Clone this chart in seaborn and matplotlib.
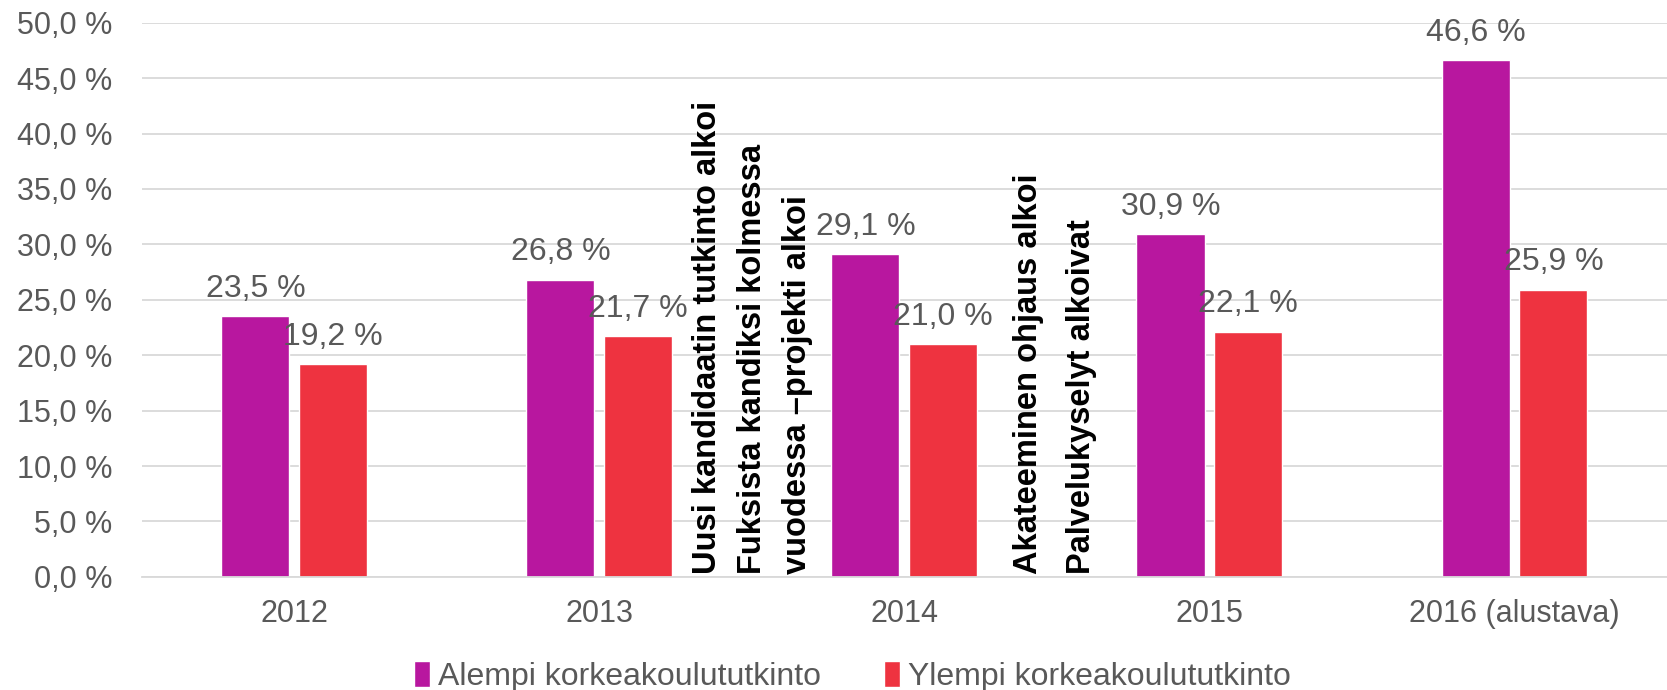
import matplotlib
matplotlib.use("Agg")
import matplotlib.pyplot as plt
import pandas as pd
import seaborn as sns

years = ["2012", "2013", "2014", "2015", "2016 (alustava)"]
alempi = [23.5, 26.8, 29.1, 30.9, 46.6]
ylempi = [19.2, 21.7, 21.0, 22.1, 25.9]
series = ["Alempi korkeakoulututkinto", "Ylempi korkeakoulututkinto"]
colors = ["#B8179F", "#EE3340"]

# rotated notes: (x position in category units, text)
notes_x = [1.354, 1.501, 1.649, 2.406, 2.58]
notes = ["Uusi kandidaatin tutkinto alkoi",
         "Fuksista kandiksi kolmessa",
         "vuodessa –projekti alkoi",
         "Akateeminen ohjaus alkoi",
         "Palvelukyselyt alkoivat"]

df = pd.DataFrame({"year": years * 2,
                   "value": alempi + ylempi,
                   "series": [series[0]] * 5 + [series[1]] * 5})

sns.set_theme(style="white")
plt.rcParams['font.family'] = ['Liberation Sans', 'DejaVu Sans']
grey = "#595959"

fig = plt.figure(figsize=(16.67, 6.9), dpi=100)
ax = fig.add_axes([0.085, 0.164, 0.915, 0.803])

sns.barplot(data=df, x="year", y="value", hue="series", palette=colors,
            width=0.51, gap=0.125, ax=ax, saturation=1)

for cont in ax.containers:
    ax.bar_label(cont, labels=[f"{v:.1f} %".replace(".", ",") for v in cont.datavalues],
                 padding=9, fontsize=23, color=grey)

for x, t in zip(notes_x, notes):
    ax.text(x, 0.3, t, rotation=90, ha="center", va="bottom",
            fontsize=23.5, fontweight="bold", color="black")

ax.set_ylim(0, 50)
ax.set_xlim(-0.5, 4.5)
ax.set_yticks(range(0, 51, 5))
ax.set_yticklabels([f"{v},0 %" for v in range(0, 51, 5)])
ax.yaxis.grid(True, color="#D9D9D9", linewidth=1.3)
ax.set_axisbelow(True)
ax.set_xlabel(None)
ax.set_ylabel(None)
ax.tick_params(axis="both", labelsize=22, colors=grey, length=0)
ax.tick_params(axis="x", pad=16)
ax.tick_params(axis="y", pad=21)
for s in ["left", "right", "top"]:
    ax.spines[s].set_visible(False)
ax.spines["bottom"].set_color("#D9D9D9")
ax.spines["bottom"].set_linewidth(1.3)

ax.legend(loc="center", bbox_to_anchor=(0.466, -0.18), ncol=2, frameon=False,
          fontsize=23, labelcolor=grey, handlelength=0.5, handleheight=0.85,
          handletextpad=0.25, columnspacing=2.0)

fig.savefig("out.png", dpi=100)
